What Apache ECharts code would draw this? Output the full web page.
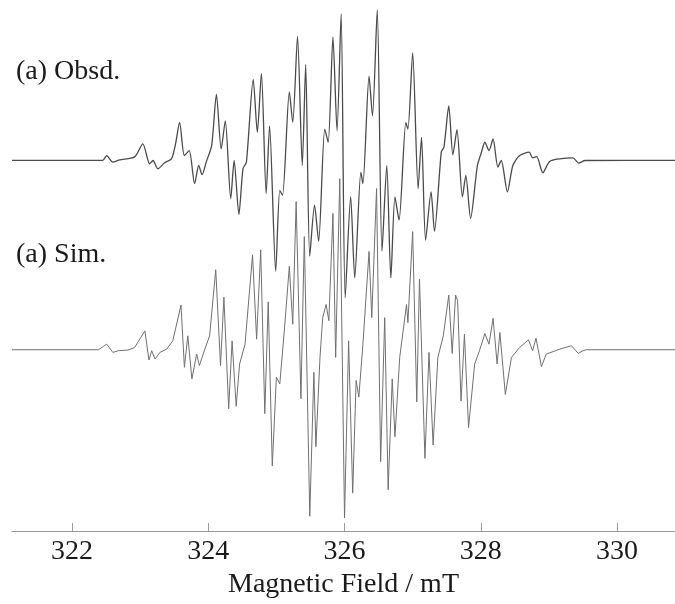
<!DOCTYPE html>
<html><head><meta charset="utf-8">
<script src="https://cdn.jsdelivr.net/npm/echarts@6/dist/echarts.min.js"></script>
<style>html,body{margin:0;padding:0;background:#fff}#c{width:675px;height:604px}</style>
</head><body><div id="c"></div>
<script>
// Observed EPR spectrum: [field (mT), derivative signal (arb. units)]
const obsdSpectrum = [
[321.12,0],[322.45,0],[322.51,4.8],[322.60,-1.8],[322.70,0.5],[322.92,3.5],[323.04,16.5],[323.14,-3.5],
[323.19,-0.2],[323.26,-8.5],[323.36,-2.5],[323.46,1.5],[323.52,16.5],[323.58,38.2],[323.65,4.8],[323.72,9.8],
[323.80,-23.5],[323.86,-5.2],[323.91,-14.5],[323.97,-1.8],[324.05,14.8],[324.12,66.5],[324.19,11.5],[324.25,39.8],
[324.33,-38.5],[324.38,-0.2],[324.45,-54.5],[324.51,-8.5],[324.56,-1.8],[324.66,81.5],[324.72,28.2],[324.78,87.5],
[324.85,-33.5],[324.90,34.8],[324.99,-111.5],[325.05,-30.2],[325.09,-35.2],[325.19,68.8],[325.24,38.2],[325.31,124.8],
[325.38,-5.2],[325.43,96.5],[325.49,-96.5],[325.56,-45.2],[325.62,-81.5],[325.71,31.5],[325.76,18.2],[325.83,124.2],
[325.89,29.8],[325.95,147.5],[326.01,-138.5],[326.09,-36.5],[326.15,-118.5],[326.24,-11.8],[326.27,-23.5],[326.36,84.8],
[326.41,44.8],[326.48,151.5],[326.55,-91.5],[326.62,-5.2],[326.68,-118.5],[326.74,-36.8],[326.80,-60.2],[326.90,38.2],
[326.93,31.5],[327.00,108.2],[327.08,-28.5],[327.13,23.2],[327.19,-80.5],[327.27,-31.8],[327.32,-71.5],[327.42,8.2],
[327.46,13.5],[327.53,54.8],[327.59,5.5],[327.65,30.8],[327.73,-36.8],[327.78,-15.2],[327.85,-58.5],[327.95,-5.2],
[328.01,8.2],[328.06,18.2],[328.12,9.8],[328.18,21.5],[328.25,-6.8],[328.30,-0.2],[328.39,-31.8],[328.47,-5.2],
[328.57,4.8],[328.71,8.2],[328.76,2.5],[328.82,3.8],[328.91,-12.5],[329.01,-1.2],[329.16,1.5],[329.35,2.5],
[329.44,-2.8],[329.53,-0.2],[330.85,0]
];
// Simulated EPR spectrum: [field (mT), derivative signal (arb. units)]
const simSpectrum = [
[321.12,0],[322.39,0],[322.46,3.3],[322.51,5.6],[322.60,-2.7],[322.68,-1],[322.82,-0.4],[322.92,2.3],
[323.07,19],[323.13,-10.4],[323.17,-1],[323.22,-9.4],[323.29,-2.7],[323.39,0.6],[323.48,9],[323.60,45],
[323.65,-17.7],[323.70,14],[323.76,-29.4],[323.83,-4.4],[323.87,-16],[323.95,0.6],[324.02,14],[324.11,80.6],
[324.18,-16],[324.23,53],[324.30,-59.4],[324.35,9],[324.41,-57],[324.46,-14.4],[324.54,5.6],[324.65,95.6],
[324.71,10.6],[324.77,100.6],[324.83,-64.4],[324.88,48.3],[324.94,-117],[325.00,-27.7],[325.05,-34.4],[325.12,22.3],
[325.19,84],[325.24,25.6],[325.29,149.3],[325.36,-49.4],[325.41,114],[325.49,-167.7],[325.55,-22.7],[325.58,-97.7],
[325.64,-7.7],[325.68,32.3],[325.73,45.6],[325.77,29.3],[325.83,137.3],[325.87,-7.7],[325.93,172.3],[326.00,-169.4],
[326.06,9],[326.12,-144.4],[326.17,-31],[326.21,-47.7],[326.27,5.6],[326.36,99],[326.40,32.3],[326.47,162.3],
[326.53,-112.7],[326.59,32.3],[326.64,-141],[326.70,-29.4],[326.74,-87.7],[326.81,-7.7],[326.91,45.6],[326.93,27.3],
[327.00,119],[327.06,-52.7],[327.10,71.3],[327.18,-109.4],[327.24,-2.7],[327.30,-96],[327.37,-7.7],[327.45,14],
[327.53,55],[327.58,-3.7],[327.63,55],[327.66,49.3],[327.71,-51.7],[327.76,15.6],[327.82,-78.4],[327.91,-14.4],
[327.98,-1],[328.06,16.3],[328.12,5.6],[328.18,31.6],[328.24,-14.4],[328.28,17.3],[328.36,-45],[328.45,-7.7],
[328.57,2.3],[328.70,10],[328.76,-1],[328.81,11.6],[328.89,-17],[328.96,-4.4],[329.16,0.6],[329.33,4],
[329.43,-3.7],[329.50,-1],[329.55,0],[330.85,0]
];
const tickValues = [322, 324, 326, 328, 330];
const traceLabels = ['(a) Obsd.', '(a) Sim.'];

// vertical stacking offsets (layout only)
const OBS_BASE = 373.5, SIM_BASE = 182.7;
const FONT = '"Liberation Serif", "Times New Roman", serif';

const chart = echarts.init(document.getElementById('c'), null, {renderer: 'canvas'});
chart.setOption({
  animation: false,
  backgroundColor: '#fff',
  grid: {left: 12, right: 0, top: 0, bottom: 69, containLabel: false},
  xAxis: {
    type: 'value', min: 321.12, max: 330.85,
    name: 'Magnetic Field / mT', nameLocation: 'middle', nameGap: 24,
    nameTextStyle: {fontFamily: FONT, fontSize: 28, color: '#1a1a1a'},
    axisLine: {show: true, lineStyle: {color: '#999', width: 1.2}},
    axisTick: {show: true, inside: true, length: 8, customValues: tickValues, lineStyle: {color: '#999'}},
    axisLabel: {customValues: tickValues, fontFamily: FONT, fontSize: 28, color: '#1a1a1a', margin: 7},
    splitLine: {show: false}
  },
  yAxis: {type: 'value', min: 0, max: 535, show: false},
  graphic: [
    {type: 'text', left: 16, top: 58, style: {text: traceLabels[0], font: '28px ' + FONT, fill: '#1a1a1a'}},
    {type: 'text', left: 16, top: 241, style: {text: traceLabels[1], font: '28px ' + FONT, fill: '#1a1a1a'}}
  ],
  series: [
    {type: 'line', name: 'Obsd', showSymbol: false, smooth: 0.25,
     data: obsdSpectrum.map(p => [p[0], p[1] + OBS_BASE]),
     lineStyle: {color: '#4a4a4a', width: 1.3}},
    {type: 'line', name: 'Sim', showSymbol: false,
     data: simSpectrum.map(p => [p[0], p[1] + SIM_BASE]),
     lineStyle: {color: '#707070', width: 1}}
  ]
});
</script></body></html>
